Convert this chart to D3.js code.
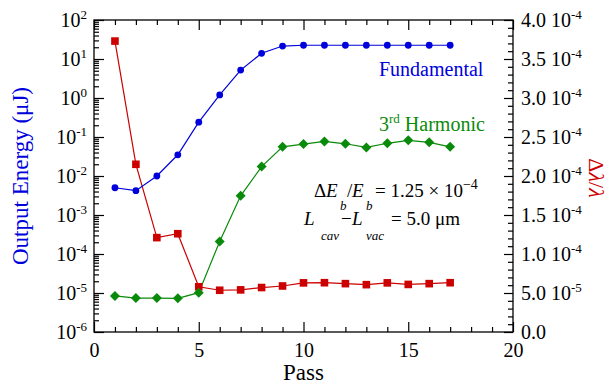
<!DOCTYPE html>
<html><head><meta charset="utf-8">
<script src="https://cdn.jsdelivr.net/npm/d3@7/dist/d3.min.js"></script>
<style>
html,body{margin:0;padding:0;background:#fff;}
</style></head>
<body><svg id="c" width="613" height="385" style="font-family:'Liberation Serif','Times New Roman',serif"></svg>
<script>
const passes = [1,2,3,4,5,6,7,8,9,10,11,12,13,14,15,16,17];
const fundamental = [5.0e-3,4.2e-3,1.0e-2,3.5e-2,0.24,1.2,5.2,14,21.5,22.5,22.5,22.5,22.5,22.5,22.5,22.5,22.5];
const harmonic3 = [8.4e-6,7.4e-6,7.4e-6,7.3e-6,1.02e-5,2.1e-4,3.1e-3,0.0174,0.056,0.066,0.077,0.067,0.054,0.069,0.082,0.073,0.056];
const dLambda = [3.73e-4,2.15e-4,1.21e-4,1.26e-4,0.58e-4,0.535e-4,0.54e-4,0.57e-4,0.59e-4,0.63e-4,0.632e-4,0.62e-4,0.607e-4,0.63e-4,0.61e-4,0.62e-4,0.632e-4];
const xTicks = [0,5,10,15,20];
const leftExps = [-6,-5,-4,-3,-2,-1,0,1,2];
const rightTicks = [0,0.5e-4,1e-4,1.5e-4,2e-4,2.5e-4,3e-4,3.5e-4,4e-4];
const rightLabels = [["0.0",null],["5.0","-5"],["1.0","-4"],["1.5","-4"],["2.0","-4"],["2.5","-4"],["3.0","-4"],["3.5","-4"],["4.0","-4"]];

const FONT="'Liberation Serif','Times New Roman',serif";
const L=94,R=513,T=20,B=332;
const BLUE="#0000dd", RED="#cc0000", GREEN="#0a8a0a";
const svg=d3.select("#c");
const x=d3.scaleLinear([0,20],[L,R]);
const yL=d3.scaleLog([1e-6,1e2],[B,T]);
const yR=d3.scaleLinear([0,4e-4],[B,T]);

function styleAxis(g){g.attr("font-family",null);g.select(".domain").remove();g.selectAll(".tick line").attr("stroke","#000").attr("stroke-width",1.2);}
function txt(sel){return sel.append("text").style("font-family",FONT);}

// bottom axis
const xMinor=d3.range(1,20).filter(v=>v%5!==0);
svg.append("g").attr("transform",`translate(0,${B})`).call(d3.axisBottom(x).tickValues(xMinor).tickSizeInner(-5).tickSizeOuter(0).tickFormat("")).call(styleAxis);
svg.append("g").attr("transform",`translate(0,${B})`).call(d3.axisBottom(x).tickValues(xTicks).tickSizeInner(-10).tickSizeOuter(0).tickPadding(11).tickFormat(d3.format("d")))
 .call(styleAxis).call(g=>g.selectAll("text").attr("font-size",20).attr("fill","#000").style("font-family",FONT));
// top axis
svg.append("g").attr("transform",`translate(0,${T})`).call(d3.axisTop(x).tickValues(xMinor).tickSizeInner(-5).tickSizeOuter(0).tickFormat("")).call(styleAxis);
svg.append("g").attr("transform",`translate(0,${T})`).call(d3.axisTop(x).tickValues(xTicks).tickSizeInner(-10).tickSizeOuter(0).tickFormat("")).call(styleAxis);

// left log axis
const lMinor=[];
for(let e=-6;e<2;e++){for(let k=2;k<=9;k++)lMinor.push(k*Math.pow(10,e));}
svg.append("g").attr("transform",`translate(${L},0)`).call(d3.axisLeft(yL).tickValues(lMinor).tickSizeInner(-5).tickSizeOuter(0).tickFormat("")).call(styleAxis);
svg.append("g").attr("transform",`translate(${L},0)`).call(d3.axisLeft(yL).tickValues(leftExps.map(e=>Math.pow(10,e))).tickSizeInner(-10).tickSizeOuter(0).tickFormat("")).call(styleAxis);
leftExps.forEach(e=>{
  const t=txt(svg).attr("x",87).attr("y",yL(Math.pow(10,e))+7).attr("text-anchor","end").attr("font-size",20).attr("fill","#000");
  t.append("tspan").text("10");
  t.append("tspan").attr("dy",-8).attr("font-size",13).text(String(e));
});

// right linear axis
const rMinor=d3.range(0,41).map(i=>i*1e-5).filter((v,i)=>i%5!==0);
svg.append("g").attr("transform",`translate(${R},0)`).call(d3.axisRight(yR).tickValues(rMinor).tickSizeInner(-5).tickSizeOuter(0).tickFormat("")).call(styleAxis);
svg.append("g").attr("transform",`translate(${R},0)`).call(d3.axisRight(yR).tickValues(rightTicks).tickSizeInner(-9).tickSizeOuter(0).tickFormat("")).call(styleAxis);
rightTicks.forEach((v,i)=>{
  const [a,e]=rightLabels[i];
  const t=txt(svg).attr("x",521).attr("y",yR(v)+7).attr("font-size",20).attr("fill","#000");
  t.append("tspan").text(a);
  if(e){t.append("tspan").text(" 10");t.append("tspan").attr("dy",-8).attr("font-size",13).text(e);}
});

// frame
svg.append("rect").attr("x",L).attr("y",T).attr("width",R-L).attr("height",B-T).attr("fill","none").attr("stroke","#000").attr("stroke-width",1.3);

// series
const lineL=d3.line().x((d,i)=>x(passes[i])).y(d=>yL(d));
const lineR=d3.line().x((d,i)=>x(passes[i])).y(d=>yR(d));
svg.append("path").datum(dLambda).attr("d",lineR).attr("fill","none").attr("stroke",RED).attr("stroke-width",1.2);
svg.append("path").datum(fundamental).attr("d",lineL).attr("fill","none").attr("stroke",BLUE).attr("stroke-width",1.2);
svg.append("path").datum(harmonic3).attr("d",lineL).attr("fill","none").attr("stroke",GREEN).attr("stroke-width",1.2);
svg.append("g").selectAll("rect").data(dLambda).join("rect")
 .attr("x",(d,i)=>x(passes[i])-3.8).attr("y",d=>yR(d)-3.8).attr("width",7.6).attr("height",7.6).attr("fill",RED);
svg.append("g").selectAll("circle").data(fundamental).join("circle")
 .attr("cx",(d,i)=>x(passes[i])).attr("cy",d=>yL(d)).attr("r",3.4).attr("fill",BLUE);
const dia=d3.symbol().type(d3.symbolSquare).size(50);
svg.append("g").selectAll("path").data(harmonic3).join("path")
 .attr("d",dia).attr("transform",(d,i)=>`translate(${x(passes[i])},${yL(d)}) rotate(45)`).attr("fill",GREEN);

// series labels
txt(svg).attr("x",379).attr("y",76).attr("font-size",20).attr("fill",BLUE).text("Fundamental");
const h=txt(svg).attr("x",379).attr("y",131).attr("font-size",20).attr("fill",GREEN);
h.append("tspan").text("3");
h.append("tspan").attr("dy",-8).attr("font-size",13).text("rd");
h.append("tspan").attr("dy",8).text(" Harmonic");

// annotation
function piece(t,xp,yp,s,fs,it){t.append("tspan").attr("x",xp).attr("y",yp).attr("font-size",fs).attr("font-style",it?"italic":"normal").text(s);}
const a1=txt(svg).attr("fill","#000");
piece(a1,314,197,"Δ",19,false);
piece(a1,326,197,"E",19,true);
piece(a1,340,210,"b",13,true);
piece(a1,347,197,"/",19,false);
piece(a1,352,197,"E",19,true);
piece(a1,366,210,"b",13,true);
piece(a1,375,197,"= 1.25 × 10",19,false);
a1.append("tspan").attr("dy",-8).attr("font-size",14).text("−4");
const a2=txt(svg).attr("fill","#000");
piece(a2,304,225,"L",19,true);
piece(a2,321,240,"cav",13,true);
piece(a2,341,225,"−",19,false);
piece(a2,352,225,"L",19,true);
piece(a2,366,240,"vac",13,true);
piece(a2,391,225,"= 5.0 μm",19,false);

// axis titles
txt(svg).attr("transform",`translate(${(L+R)/2},380)`).attr("text-anchor","middle").attr("font-size",23).attr("fill","#000").text("Pass");
txt(svg).attr("transform",`translate(28,176) rotate(-90)`).attr("text-anchor","middle").attr("font-size",23).attr("fill",BLUE).text("Output Energy (μJ)");
const rt=txt(svg).attr("transform",`translate(589,178) rotate(90)`).attr("text-anchor","middle").attr("font-size",22).attr("fill",RED);
rt.append("tspan").text("Δ");
rt.append("tspan").attr("font-style","italic").text("λ");
rt.append("tspan").text("/");
rt.append("tspan").attr("font-style","italic").text("λ");
</script></body></html>
